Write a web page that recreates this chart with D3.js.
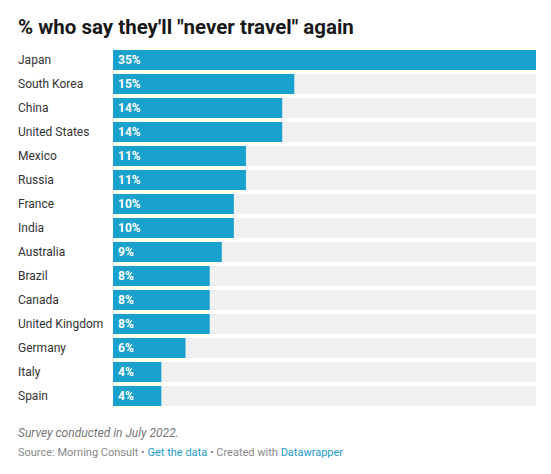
<!DOCTYPE html>
<html lang="en">
<head>
<meta charset="utf-8">
<script src="https://cdn.jsdelivr.net/npm/d3@7"></script>
<style>
  body { margin: 0; background: #fff; font-family: Roboto, sans-serif; }
</style>
</head>
<body>
<script>
  // Data
  const countries = ["Japan", "South Korea", "China", "United States", "Mexico", "Russia",
    "France", "India", "Australia", "Brazil", "Canada", "United Kingdom", "Germany", "Italy", "Spain"]
  const values = [35, 15, 14, 14, 11, 11, 10, 10, 9, 8, 8, 8, 6, 4, 4]

  const w = 551
  const h = 474
  const margin = { left: 113, right: 15, top: 50 }

  const svg = d3.select('body').append('svg')
    .attr('width', w)
    .attr('height', h)

  // Title
  svg.append('text')
    .attr('x', 18).attr('y', 34)
    .attr('font-size', 20.5).attr('font-weight', 700).attr('fill', '#181818')
    .text('% who say they\'ll "never travel" again')

  const x = d3.scaleLinear().domain([0, 35]).range([margin.left, w - margin.right])
  const y = d3.scaleBand().domain(countries)
    .range([margin.top - 2, margin.top - 2 + 24 * countries.length])
    .paddingInner(4 / 24).paddingOuter(2 / 24)

  const rows = svg.selectAll('g.row')
    .data(countries.map((c, i) => ({ c: c, v: values[i] })))
    .enter().append('g')
    .attr('class', 'row')

  // background tracks
  rows.append('rect')
    .attr('x', x(0)).attr('y', d => y(d.c))
    .attr('width', x(35) - x(0)).attr('height', y.bandwidth())
    .attr('fill', '#f0f0f0')

  rows.append('rect')
    .attr('x', x(0)).attr('y', d => y(d.c))
    .attr('width', d => x(d.v) - x(0)).attr('height', y.bandwidth())
    .attr('fill', '#18a1cd')

  rows.append('text')
    .attr('x', 18).attr('y', d => y(d.c) + y.bandwidth() / 2)
    .attr('dy', '0.35em')
    .attr('font-size', 12).attr('fill', '#333')
    .text(d => d.c)

  rows.append('text')
    .attr('x', x(0) + 5).attr('y', d => y(d.c) + y.bandwidth() / 2)
    .attr('dy', '0.35em')
    .attr('font-size', 12).attr('font-weight', 700).attr('fill', '#fff')
    .text(d => d.v + '%')

  // Notes and source
  svg.append('text')
    .attr('x', 18).attr('y', 437)
    .attr('font-size', 12).attr('font-style', 'italic').attr('fill', '#777')
    .text('Survey conducted in July 2022.')

  const src = svg.append('text')
    .attr('x', 18).attr('y', 456)
    .attr('font-size', 11).attr('fill', '#888')
  src.append('tspan').text('Source: Morning Consult • ')
  src.append('tspan').attr('fill', '#1d9bc8').text('Get the data')
  src.append('tspan').text(' • Created with ')
  src.append('tspan').attr('fill', '#1d9bc8').text('Datawrapper')
</script>
</body>
</html>
